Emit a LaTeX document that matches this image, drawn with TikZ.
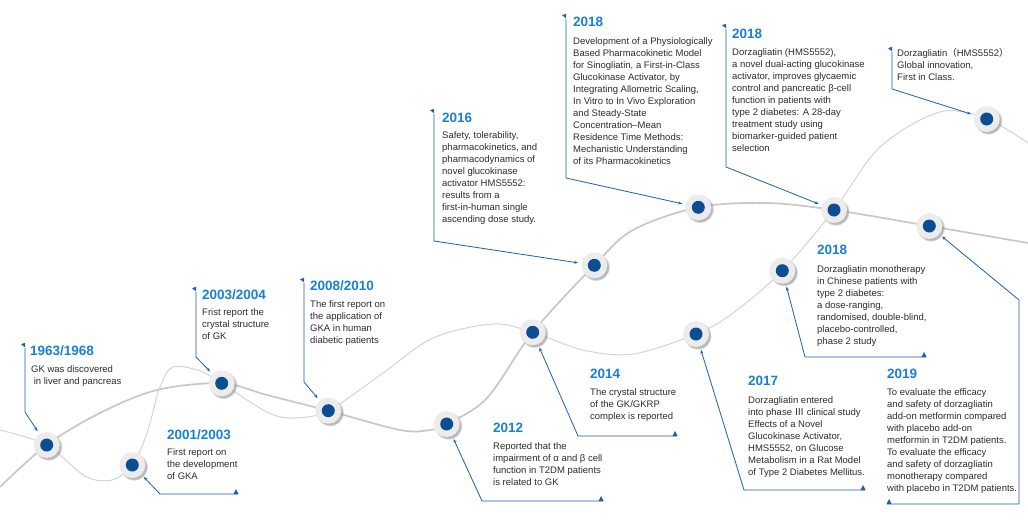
\documentclass[tikz,border=0pt]{standalone}
\usepackage{fontspec}
\setmainfont{Liberation Sans}
\newfontfamily\cjk{Noto Sans CJK SC}
\usetikzlibrary{shadows,arrows.meta}
\definecolor{ttlc}{RGB}{24,128,214}
\definecolor{bodyc}{RGB}{45,45,45}
\definecolor{connc}{RGB}{30,95,175}
\definecolor{curvec}{RGB}{200,200,200}
\definecolor{curvel}{RGB}{212,212,212}
\definecolor{ringc}{RGB}{236,236,236}
\definecolor{dotc}{RGB}{12,78,145}
\begin{document}
\begin{tikzpicture}[x=1pt,y=-1pt,
  ring/.style={circle, minimum size=26pt, inner sep=0pt, outer sep=0pt, fill=ringc,
    circular drop shadow={shadow xshift=1.5pt, shadow yshift=-1.6pt, shadow scale=1.08, opacity=0.55},
    path picture={\fill[dotc] (path picture bounding box.center) circle (6.5pt);}},
  ttl/.style={anchor=base west, inner sep=0pt, font=\fontsize{13.5}{16}\selectfont\bfseries, text=ttlc},
  bdy/.style={anchor=north west, yshift=8.4pt, inner sep=0pt, align=left, font=\fontsize{9.5}{12}\selectfont, text=bodyc, execute at begin node=\strut},
  cn/.style={draw=connc, line width=0.8pt, -{Stealth[length=4pt,width=3pt]}, shorten >=3.5pt},
  thin/.style={draw=curvel, line width=1pt},
  thick/.style={draw=curvec, line width=1.7pt}]
\fill[white] (0,0) rectangle (1028,528);
\useasboundingbox (0,0) rectangle (1028,528);
% node positions
\coordinate (p1) at (46.7,445);
\coordinate (p2) at (132.3,465);
\coordinate (p3) at (221.7,383.3);
\coordinate (p4) at (328.3,410.7);
\coordinate (p5) at (446.7,424);
\coordinate (p6) at (532.7,332.3);
\coordinate (p7) at (594.3,265.3);
\coordinate (p8) at (698.3,207.3);
\coordinate (p9) at (696,334);
\coordinate (p10) at (782.3,270.7);
\coordinate (p11) at (834,210);
\coordinate (p12) at (929.3,226);
\coordinate (p13) at (986.7,119);
% backbone curves
\draw[thick] plot[smooth,tension=0.55] coordinates {(0,487) (p1) (100,413) (157,390) (p3) (267,395) (p4) (400,430) (430,430) (p5) (487,398) (p6) (p7) (633,230) (p8) (767,203) (p11) (p12) (1028,243)};
\draw[thin] plot[smooth,tension=0.55] coordinates {(0,430) (p1) (85,476) (112,480) (p2) (147,433) (160,387) (173,367) (200,371) (p3) (267,412) (293,418) (p4) (383,373) (433,338) (493,324) (p6) (583,350) (633,354) (p9) (733,313) (p10) (p11) (880,147) (940,112) (p13) (1028,143)};
% milestone nodes
\foreach \i in {1,...,13} {\node[ring] (n\i) at (p\i) {};}
% connector points
\coordinate (f1) at (25,348);   \coordinate (c1) at (25,412);
\coordinate (e2) at (238,494);  \coordinate (c2) at (160,494);
\coordinate (f3) at (196,292);  \coordinate (c3) at (196,357);
\coordinate (f4) at (304,283);  \coordinate (c4) at (304,382);
\coordinate (e5) at (603,501);  \coordinate (c5) at (482,501);
\coordinate (e6) at (677,436);  \coordinate (c6) at (578,436);
\coordinate (f7) at (434,114);  \coordinate (c7) at (434,241);
\coordinate (f8) at (566,19);   \coordinate (c8) at (566,178);
\coordinate (e9) at (865,490);  \coordinate (c9) at (744,490);
\coordinate (e10) at (926,357); \coordinate (c10) at (805,357);
\coordinate (f11) at (726,29);  \coordinate (c11) at (726,167);
\coordinate (e12) at (887,504); \coordinate (c12a) at (1019,504); \coordinate (c12b) at (1019,300);
\coordinate (f13) at (892,52);  \coordinate (c13) at (892,89);
% connectors
\draw[cn] (f1) -- (c1) -- (n1);
\draw[cn] (e2) -- (c2) -- (n2);
\draw[cn] (f3) -- (c3) -- (n3);
\draw[cn] (f4) -- (c4) -- (n4);
\draw[cn] (e5) -- (c5) -- (n5);
\draw[cn] (e6) -- (c6) -- (n6);
\draw[cn] (f7) -- (c7) -- (n7);
\draw[cn] (f8) -- (c8) -- (n8);
\draw[cn] (e9) -- (c9) -- (n9);
\draw[cn] (e10) -- (c10) -- (n10);
\draw[cn] (f11) -- (c11) -- (n11);
\draw[cn] (e12) -- (c12a) -- (c12b) -- (n12);
\draw[cn] (f13) -- (c13) -- (n13);
% flags at top ends
\foreach \f in {f1,f3,f4,f7,f8,f11,f13} {\fill[connc] ([yshift=0.6pt]\f) -- ++(0,-4.5) -- ++(-4,1.2) -- cycle;}
% small triangles at free ends
\foreach \e in {e2,e5,e6,e9,e10} {\fill[connc] ([xshift=-4.5pt]\e) -- ([xshift=0.5pt]\e) -- ([xshift=-2pt,yshift=5pt]\e) -- cycle;}
\fill[connc] ([xshift=-0.5pt]e12) -- ([xshift=4.5pt]e12) -- ([xshift=2pt,yshift=5pt]e12) -- cycle;
% texts
\node[ttl] (t1) at (30,355) {1963/1968};
\node[bdy] (b1) at (31,373.5) {GK was discovered\\\hspace{2.6pt}in liver and pancreas};
\node[ttl] (t2) at (167,439) {2001/2003};
\node[bdy] (b2) at (167,456.5) {First report on\\the development\\of GKA};
\node[ttl] (t3) at (202,299) {2003/2004};
\node[bdy] (b3) at (202,316.5) {Frist report the\\crystal structure\\of GK};
\node[ttl] (t4) at (310,290) {2008/2010};
\node[bdy] (b4) at (310,308.5) {The first report on\\the application of\\GKA in human\\diabetic patients};
\node[ttl] (t5) at (493,432) {2012};
\node[bdy] (b5) at (493,450.5) {Reported that the\\impairment of α and β cell\\function in T2DM patients\\is related to GK};
\node[ttl] (t6) at (590,378) {2014};
\node[bdy] (b6) at (590,396.5) {The crystal structure\\of the GK/GKRP\\complex is reported};
\node[ttl] (t7) at (442,122) {2016};
\node[bdy] (b7) at (442,139.5) {Safety, tolerability,\\pharmacokinetics, and\\pharmacodynamics of\\novel glucokinase\\activator HMS5552:\\results from a\\first-in-human single\\ascending dose study.};
\node[ttl] (t8) at (573,26) {2018};
\node[bdy] (b8) at (573,45.5) {Development of a Physiologically\\Based Pharmacokinetic Model\\for Sinogliatin, a First-in-Class\\Glucokinase Activator, by\\Integrating Allometric Scaling,\\In Vitro to In Vivo Exploration\\and Steady-State\\Concentration–Mean\\Residence Time Methods:\\Mechanistic Understanding\\of its Pharmacokinetics};
\node[ttl] (t11) at (732,38) {2018};
\node[bdy] (b11) at (732,56.5) {Dorzagliatin (HMS5552),\\a novel dual-acting glucokinase\\activator, improves glycaemic\\control and pancreatic β-cell\\function in patients with\\type 2 diabetes: A 28-day\\treatment study using\\biomarker-guided patient\\selection};
\node[bdy] (b13) at (897,56.5) {Dorzagliatin{\cjk （}HMS5552{\cjk ）}\\Global innovation,\\First in Class.};
\node[ttl] (t10) at (817,254) {2018};
\node[bdy] (b10) at (817,273.5) {Dorzagliatin monotherapy\\in Chinese patients with\\type 2 diabetes:\\a dose-ranging,\\randomised, double-blind,\\placebo-controlled,\\phase 2 study};
\node[ttl] (t9) at (748,385) {2017};
\node[bdy] (b9) at (748,404.5) {Dorzagliatin entered\\into phase {\cjk Ⅲ} clinical study\\Effects of a Novel\\Glucokinase Activator,\\HMS5552, on Glucose\\Metabolism in a Rat Model\\of Type 2 Diabetes Mellitus.};
\node[ttl] (t12) at (887,378) {2019};
\node[bdy] (b12) at (887,396.5) {To evaluate the efficacy\\and safety of dorzagliatin\\add-on metformin compared\\with placebo add-on\\metformin in T2DM patients.\\To evaluate the efficacy\\and safety of dorzagliatin\\monotherapy compared\\with placebo in T2DM patients.};
\end{tikzpicture}
\end{document}
